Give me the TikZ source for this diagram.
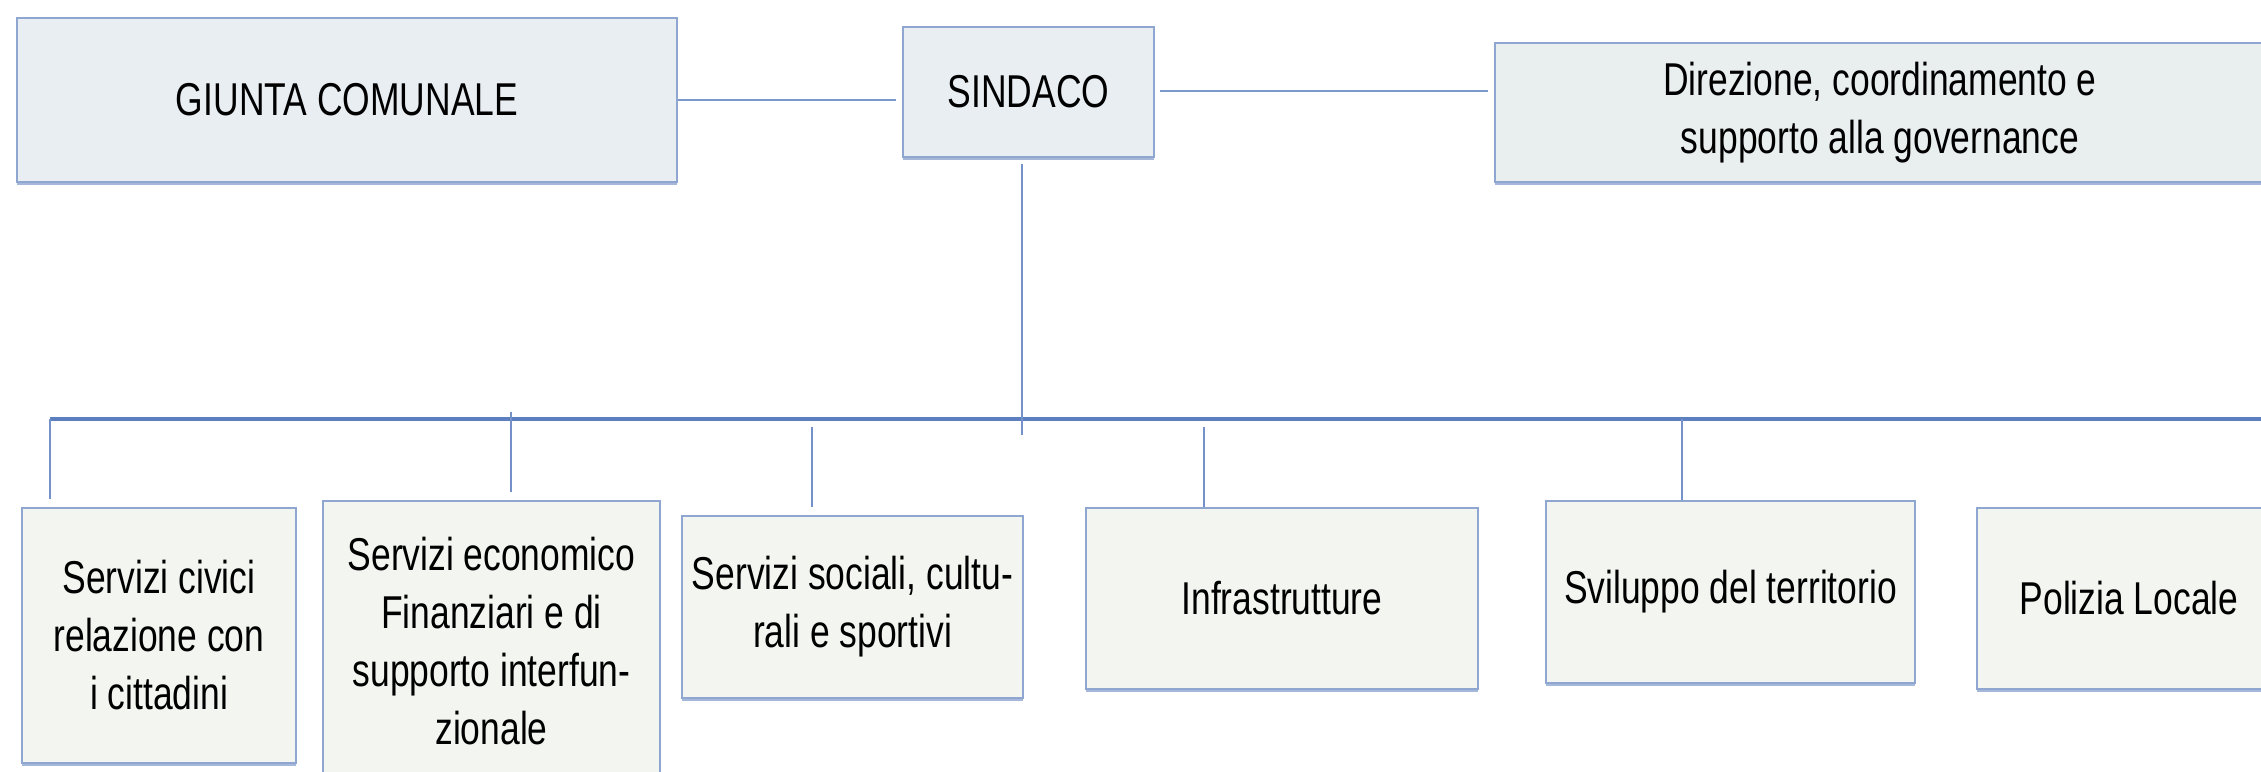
\documentclass[tikz,border=0pt]{standalone}
\usepackage{fontspec}
\setmainfont{Liberation Sans}[FakeStretch=0.77]
\usepackage{tikz}
\usetikzlibrary{calc}
\usetikzlibrary{shadows}
\definecolor{boxline}{HTML}{8EA6D0}
\definecolor{busline}{HTML}{5B7FBF}
\definecolor{topfill}{HTML}{E9EEF3}
\definecolor{dirfill}{HTML}{E9EFEE}
\definecolor{servfill}{HTML}{F3F6F0}
\tikzset{
every picture/.style={line width=0.6pt},
%%%%%%%%%%  Node styles
orgbox/.style={draw=boxline, rectangle, inner sep=2pt, align=center,
               font=\fontsize{13.1}{16.5}\selectfont,
               drop shadow={shadow xshift=0pt, shadow yshift=-0.9pt,
                            fill=boxline, opacity=0.8}},
topbox/.style={orgbox, fill=topfill},
dirbox/.style={orgbox, fill=dirfill},
servbox/.style={orgbox, fill=servfill},
%%%% different line styles:
link/.style={draw=busline!80, line width=0.55pt},
drop/.style={draw=busline!85, line width=0.45pt},
bus/.style={draw=busline, line width=0.9pt}
}

\begin{document}
\begin{tikzpicture}
\clip (0,0) rectangle (22.61,-7.72);
%%%% upper row
\node[topbox, minimum width=6.60cm, minimum height=1.64cm] (giunta) at (3.47,-1.00) {GIUNTA COMUNALE};
\node[topbox, minimum width=2.51cm, minimum height=1.30cm] (sindaco) at (10.285,-0.92) {SINDACO};
\node[dirbox, minimum width=7.70cm, minimum height=1.39cm] (direz) at (18.80,-1.125) {Direzione, coordinamento e\\supporto alla governance};
%%%% lower row
\node[servbox, minimum width=2.74cm, minimum height=2.55cm] (civici) at (1.59,-6.355) {Servizi civici\\relazione con\\i cittadini};
\node[servbox, minimum width=3.37cm, minimum height=2.80cm] (econ) at (4.915,-6.41) {Servizi economico\\Finanziari e di\\supporto interfun-\\zionale};
\node[servbox, minimum width=3.41cm, minimum height=1.82cm] (sociali) at (8.525,-6.07) {Servizi sociali, cultu-\\rali e sportivi};
\node[servbox, minimum width=3.92cm, minimum height=1.81cm] (infra) at (12.82,-5.985) {Infrastrutture};
\node[servbox, minimum width=3.69cm, minimum height=1.82cm] (svil) at (17.305,-5.92) {Sviluppo del territorio};
\node[servbox, minimum width=3.04cm, minimum height=1.81cm] (poliz) at (21.29,-5.985) {Polizia Locale};
%%%% connectors
\draw[link, shorten >=0.06cm] (giunta.east) -- (giunta.east -| sindaco.west);
\draw[link, shorten <=0.05cm, shorten >=0.06cm] ($(sindaco.east)+(0,0.01)$) -- ($(sindaco.east -| direz.west)+(0,0.01)$);
\coordinate (busL) at (0.50,-4.19);
\coordinate (busR) at (22.70,-4.19);
\draw[bus] (busL) -- (busR);
\coordinate (top) at (10.22,-1.64);
\draw[drop] (top) -- ($(top |- busL)+(0,-0.16)$);
\coordinate (d1) at (0.50,-4.19);
\coordinate (d2) at (5.11,-4.12);
\coordinate (d3) at (8.12,-4.27);
\coordinate (d4) at (12.04,-4.27);
\coordinate (d5) at (16.82,-4.19);
\draw[drop, shorten >=0.08cm] (d1) -- (d1 |- civici.north);
\draw[drop, shorten >=0.08cm] (d2) -- (d2 |- econ.north);
\draw[drop, shorten >=0.08cm] (d3) -- (d3 |- sociali.north);
\draw[drop] (d4) -- (d4 |- infra.north);
\draw[drop] (d5) -- (d5 |- svil.north);
\end{tikzpicture}
\end{document}
